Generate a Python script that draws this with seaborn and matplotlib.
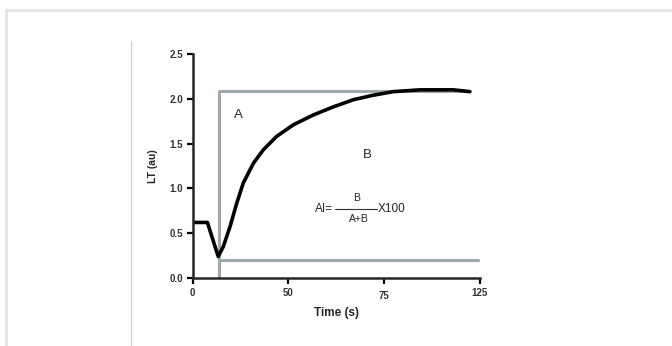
import matplotlib
matplotlib.use("Agg")

import matplotlib.pyplot as plt
import pandas as pd
import seaborn as sns
from matplotlib.lines import Line2D

# ── Data ───────────────────────────────────────────────────────────────
time_s = [0, 6.4, 11.1, 13.3, 16.2, 19.1, 22.0, 26.4, 30.7, 36.5, 43.8,
          52.5, 61.2, 69.9, 78.6, 87.3, 98.9, 113.4, 120.6]
lt_au = [0.62, 0.62, 0.24, 0.35, 0.57, 0.83, 1.06, 1.28, 1.43, 1.58, 1.71,
         1.82, 1.91, 1.99, 2.04, 2.08, 2.10, 2.10, 2.08]

# reference box used for the A / B areas
box_x = [11.5, 11.5, 120.0]
box_y = [0.0, 2.09, 2.09]
base_x = [11.5, 124.0]
base_y = [0.20, 0.20]

x_tick_pos = [0, 125 / 3, 250 / 3, 125]
x_tick_labels = ["0", "50", "75", "125"]
y_ticks = [0.0, 0.5, 1.0, 1.5, 2.0, 2.5]

GRAY = "#9ea8aa"

sns.set_theme(style="ticks")
plt.rcParams["font.family"] = ["Liberation Sans", "DejaVu Sans"]

fig = plt.figure(figsize=(6.72, 3.46), dpi=100)
ax = fig.add_axes([192.7 / 672, 1 - 278 / 346, 287.3 / 672, 224 / 346])

curve = pd.DataFrame({"time": time_s, "lt": lt_au})
sns.lineplot(x=box_x, y=box_y, ax=ax, color=GRAY, linewidth=2.2,
             sort=False, estimator=None)
sns.lineplot(x=base_x, y=base_y, ax=ax, color=GRAY, linewidth=2.2,
             sort=False, estimator=None)
sns.lineplot(data=curve, x="time", y="lt", ax=ax, color="black",
             linewidth=2.6, sort=False, estimator=None)

ax.set_xlim(0, 125)
ax.set_ylim(0, 2.5)
ax.set_xticks(x_tick_pos)
ax.set_xticklabels(x_tick_labels)
ax.set_yticks(y_ticks)
ax.set_yticklabels([f"{v:.1f}" for v in y_ticks])
ax.tick_params(width=1.6, length=4, labelsize=7, colors="black", pad=3)
for lab in ax.get_xticklabels() + ax.get_yticklabels():
    lab.set_fontweight("bold")
    lab.set_color("#333333")
ax.get_xticklabels()[2].set_y(-0.015)
ax.spines["left"].set_linewidth(1.8)
ax.spines["bottom"].set_linewidth(1.8)
sns.despine(ax=ax)

ax.set_xlabel("Time (s)", fontsize=8.5, fontweight="bold", labelpad=4)
ax.set_ylabel("LT (au)", fontsize=7.5, fontweight="bold", labelpad=8)

ax.text(19.7, 1.82, "A", fontsize=9.5, ha="center", va="center")
ax.text(75.9, 1.37, "B", fontsize=9.5, ha="center", va="center")

# AI = B / (A+B) x 100
ax.text(61.0, 0.77, "AI=", fontsize=8.5, ha="right", va="center")
ax.text(71.5, 0.89, "B", fontsize=7.5, ha="center", va="center")
ax.text(72.5, 0.66, "A+B", fontsize=7.5, ha="center", va="center")
ax.text(80.6, 0.77, "X100", fontsize=8.5, ha="left", va="center")
ax.add_line(Line2D([62.0, 80.2], [0.77, 0.77], color="#333333", linewidth=0.8))

# frame lines of the page
fig.add_artist(Line2D([6 / 672, 1], [1 - 10 / 346] * 2, color="#e4e4e4",
                      linewidth=2))
fig.add_artist(Line2D([6 / 672] * 2, [0, 1 - 10 / 346], color="#e4e4e4",
                      linewidth=2))
fig.add_artist(Line2D([131 / 672] * 2, [0, 1 - 41 / 346], color="#cfcfcf",
                      linewidth=1))

fig.savefig("out.png", dpi=100)
